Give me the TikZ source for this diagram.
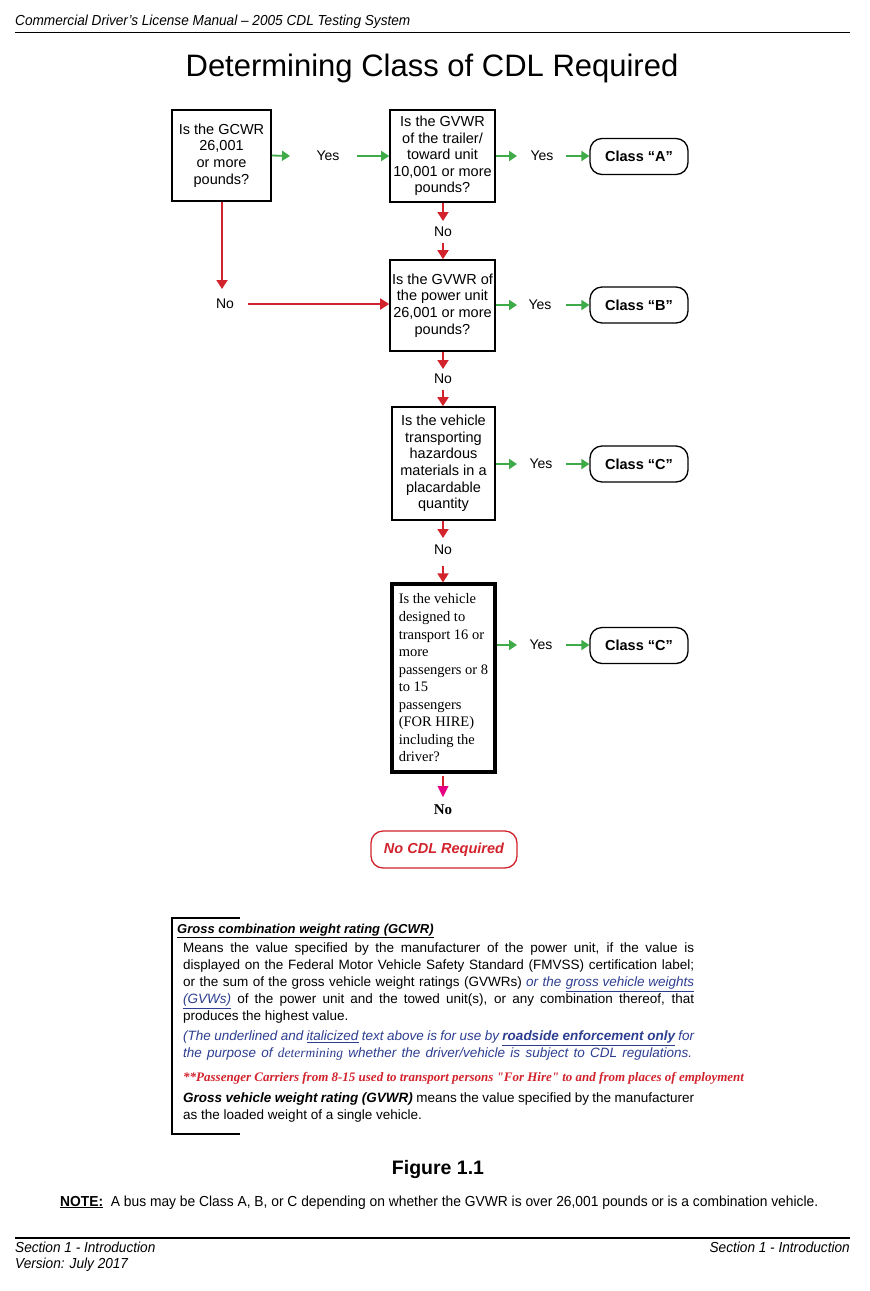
\documentclass[tikz,border=0pt]{standalone}
\usepackage{fontspec}
\setmainfont{Liberation Sans}
\newfontfamily\serifx{Liberation Serif}
\usetikzlibrary{arrows.meta}
\definecolor{cgreen}{RGB}{62,170,72}
\definecolor{cred}{RGB}{210,35,45}
\definecolor{cmag}{RGB}{230,0,130}
\definecolor{cblue}{RGB}{45,62,145}
\newcommand{\fsz}[2]{\fontsize{#1}{#2}\selectfont}
\newcommand{\blit}[1]{\textcolor{cblue}{\itshape #1}}
\begin{document}
\begin{tikzpicture}[x=1pt,y=-1pt,
  qbox/.style={draw, line width=1.6pt, align=center, inner sep=0pt, font=\fsz{14.5}{16.6}},
  cbox/.style={draw, line width=1.3pt, rounded corners=12pt, minimum width=98pt, minimum height=36pt, inner sep=0pt, font=\bfseries\fsz{14.5}{16}},
  lbl/.style={font=\fsz{14}{16}, inner sep=0pt},
  garrow/.style={draw=cgreen, line width=1.8pt, -{Triangle[length=8pt,width=10pt]}},
  rarrow/.style={draw=cred, line width=1.8pt, -{Triangle[length=9pt,width=11pt]}},
  txt/.style={anchor=base west, inner sep=0pt, font=\fsz{13.5}{17}},
  hf/.style={anchor=base west, inner sep=0pt, font=\itshape\fsz{14.5}{16}}
]
\useasboundingbox[fill=white] (0,0) rectangle (870,1291);

% header
\node[hf] (hdr) at (15,25) {\scalebox{0.94}[1]{Commercial Driver’s License Manual – 2005 CDL Testing System}};
\draw[line width=1.2pt] (15,32.5) -- (850,32.5);
\node[inner sep=0pt, font=\fsz{31}{34}] (title) at (432,68.5) {Determining Class of CDL Required};

% decision boxes
\node[qbox, minimum width=99pt, minimum height=91pt] (b1) at (221.5,155.5) {Is the GCWR\\26,001\\or more\\pounds?};
\node[qbox, minimum width=105pt, minimum height=92pt] (b2) at (442.5,156) {Is the GVWR\\of the trailer/\\toward unit\\10,001 or more\\pounds?};
\node[qbox, minimum width=105pt, minimum height=91pt] (b3) at (442.5,305.5) {Is the GVWR of\\the power unit\\26,001 or more\\pounds?};
\node[qbox, minimum width=103pt, minimum height=113pt] (b4) at (443.5,463.5) {Is the vehicle\\transporting\\hazardous\\materials in a\\placardable\\quantity};
\node[draw, line width=3.2pt, minimum width=103pt, minimum height=188pt, inner sep=0pt, align=left, font=\serifx\fsz{14.5}{17.55}] (b5) at (443.5,678) {Is the vehicle\\designed to\\transport 16 or\\more\\passengers or 8\\to 15\\passengers\\(FOR HIRE)\\including the\\driver?};

% class boxes
\node[cbox] (cA) at (639,156.5) {Class “A”};
\node[cbox] (cB) at (639,305) {Class “B”};
\node[cbox] (cC1) at (639,464) {Class “C”};
\node[cbox] (cC2) at (639,645.5) {Class “C”};
\node[cbox, draw=cred, minimum width=146pt, minimum height=37pt, font=\bfseries\itshape\fsz{14.5}{16}, text=cred] (none) at (444,849.5) {No CDL Required};

% Yes labels
\node[lbl] (y1) at (328,156) {Yes};
\node[lbl] (y2) at (542,156) {Yes};
\node[lbl] (y3) at (540,305) {Yes};
\node[lbl] (y4) at (541,463.5) {Yes};
\node[lbl] (y5) at (541,645) {Yes};
% No labels
\node[lbl] (n1) at (225,304) {No};
\node[lbl] (n2) at (443,232) {No};
\node[lbl] (n3) at (443,379) {No};
\node[lbl] (n4) at (443,550) {No};
\node[inner sep=0pt, font=\serifx\bfseries\fsz{15}{17}] (n5) at (443,809.5) {No};

% green connectors
\coordinate (g1e) at (290,156);   \draw[garrow] (b1.east) -- (g1e);
\coordinate (g1s) at (357,156);   \draw[garrow] (g1s) -- (b2.west);
\coordinate (g2e) at (517,156);   \draw[garrow] (b2.east |- g2e) -- (g2e);
\coordinate (g2s) at (566,156);   \draw[garrow] (g2s) -- (cA.west |- g2s);
\coordinate (g3e) at (517,305);   \draw[garrow] (b3.east |- g3e) -- (g3e);
\coordinate (g3s) at (566,305);   \draw[garrow] (g3s) -- (cB.west |- g3s);
\coordinate (g4e) at (517,464);   \draw[garrow] (b4.east |- g4e) -- (g4e);
\coordinate (g4s) at (566,464);   \draw[garrow] (g4s) -- (cC1.west |- g4s);
\coordinate (g5e) at (517,645);   \draw[garrow] (b5.east |- g5e) -- (g5e);
\coordinate (g5s) at (566,645);   \draw[garrow] (g5s) -- (cC2.west |- g5s);

% red connectors
\coordinate (r1e) at (222,289);   \draw[rarrow] (b1.south -| r1e) -- (r1e);
\coordinate (r1s) at (248,304);   \draw[rarrow] (r1s) -- (b3.west |- r1s);
\coordinate (r2e) at (443,221);   \draw[rarrow] (b2.south -| r2e) -- (r2e);
\coordinate (r2s) at (443,243);   \draw[rarrow] (r2s) -- (b3.north -| r2s);
\coordinate (r3e) at (443,369);   \draw[rarrow] (b3.south -| r3e) -- (r3e);
\coordinate (r3s) at (443,390);   \draw[rarrow] (r3s) -- (b4.north -| r3s);
\coordinate (r4e) at (443,538);   \draw[rarrow] (b4.south -| r4e) -- (r4e);
\coordinate (r4s) at (443,566);   \draw[rarrow] (r4s) -- (b5.north -| r4s);
\coordinate (r5s) at (443,776);  \coordinate (r5m) at (443,787); \coordinate (r5e) at (443,797);
\draw[draw=cred, line width=1.8pt] (r5s) -- (r5m);
\fill[cmag] (437.5,786) -- (448.5,786) -- (r5e) -- cycle;

% definition box
\draw[line width=2pt] (240,918) -- (172,918) -- (172,1134) -- (240,1134);
\node[txt, font=\bfseries\itshape\fsz{13}{16}] (d0) at (177,933.5) {\underline{Gross combination weight rating (GCWR)}};
\node[txt] (d1) at (183,952.5) {\makebox[511pt][s]{Means the value specified by the manufacturer of the power unit, if the value is}};
\node[txt] (d2) at (183,969.5) {\makebox[511pt][s]{displayed on the Federal Motor Vehicle Safety Standard (FMVSS) certification label;}};
\node[txt] (d3) at (183,986.5) {\makebox[511pt][s]{or the sum of the gross vehicle weight ratings (GVWRs) \blit{or the \underline{gross vehicle weights}}}};
\node[txt] (d4) at (183,1003.5) {\makebox[511pt][s]{\blit{\underline{(GVWs)}} of the power unit and the towed unit(s), or any combination thereof, that}};
\node[txt] (d5) at (183,1020.5) {produces the highest value.};
\node[txt] (d6) at (183,1040.5) {\makebox[511pt][s]{\blit{(The underlined and \underline{italicized} text above is for use by \textbf{\underline{roadside enforcement only}} for}}};
\node[txt] (d7) at (183,1057.5) {\makebox[509pt][s]{\blit{the purpose of {\serifx determining} whether the driver/vehicle is subject to CDL regulations.}}};
\node[txt, font=\serifx\bfseries\itshape\fsz{13}{15}, text=cred] (d8) at (183,1081) {**Passenger Carriers from 8-15 used to transport persons "For Hire" to and from places of employment};
\node[txt] (d9) at (183,1102.5) {\makebox[511pt][s]{\textbf{\textit{Gross vehicle weight rating (GVWR)}} means the value specified by the manufacturer}};
\node[txt] (d10) at (183,1119.5) {as the loaded weight of a single vehicle.};

% figure caption and note
\node[inner sep=0pt, font=\bfseries\fsz{19.5}{22}] (fig) at (438,1169) {Figure 1.1};
\node[anchor=base west, inner sep=0pt, font=\fsz{14.5}{16}] (note) at (60,1206) {\scalebox{0.953}[1]{\textbf{\underline{NOTE:}}\ \ A bus may be Class A, B, or C depending on whether the GVWR is over 26,001 pounds or is a combination vehicle.}};

% footer
\draw[line width=1.2pt] (15,1238) -- (850,1238);
\node[hf] (f1) at (15,1252) {\scalebox{0.94}[1]{Section 1 - Introduction}};
\node[hf] (f2) at (15,1268) {\scalebox{0.94}[1]{Version: July 2017}};
\node[hf, anchor=base east] (f3) at (850,1252) {\scalebox{0.94}[1]{Section 1 - Introduction}};
\end{tikzpicture}
\end{document}
